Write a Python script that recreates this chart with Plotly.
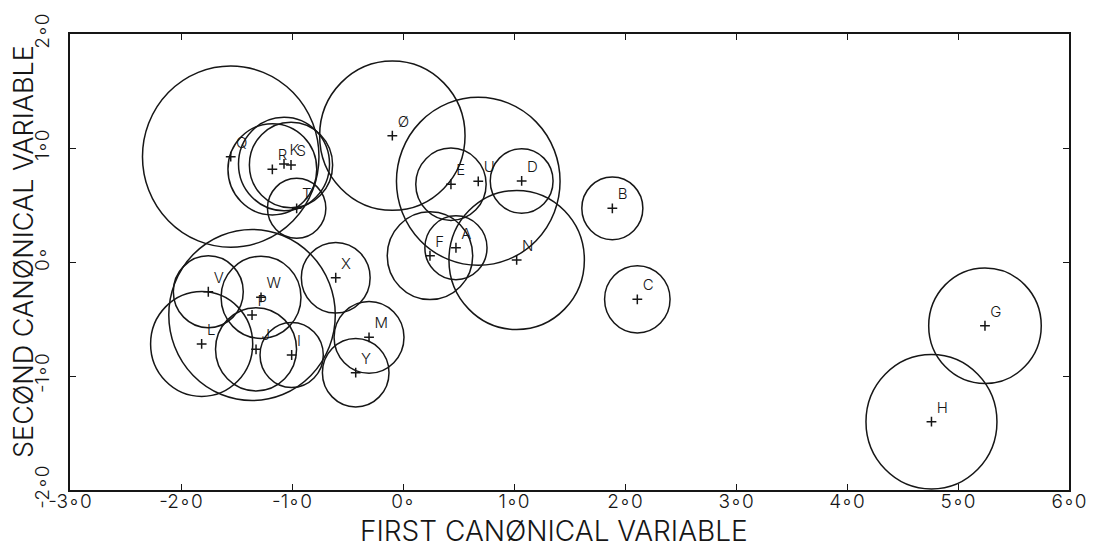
import plotly.graph_objects as go

labels = ["A", "B", "C", "D", "E", "F", "G", "H", "I", "J", "K", "L", "M",
          "N", "Ø", "P", "Q", "R", "S", "T", "U", "V", "W", "X", "Y"]
x_vals = [0.477, 1.886, 2.111, 1.069, 0.432, 0.243, 5.243, 4.761, -1.003, -1.324, -1.072, -1.814, -0.306,
          1.024, -0.096, -1.360, -1.552, -1.177, -1.009, -0.958, 0.678, -1.754, -1.279, -0.606, -0.426]
y_vals = [0.125, 0.471, -0.327, 0.711, 0.682, 0.055, -0.559, -1.401, -0.816, -0.766, 0.860, -0.719, -0.661,
          0.018, 1.108, -0.465, 0.924, 0.813, 0.851, 0.471, 0.708, -0.261, -0.310, -0.138, -0.971]
radii = [0.28, 0.275, 0.295, 0.283, 0.317, 0.385, 0.507, 0.59, 0.285, 0.365, 0.41, 0.46, 0.315,
         0.61, 0.655, 0.75, 0.795, 0.40, 0.375, 0.263, 0.737, 0.315, 0.36, 0.31, 0.30]

x_ticks = [-3, -2, -1, 0, 1, 2, 3, 4, 5, 6]
x_ticktext = ["-3∘0", "-2∘0", "-1∘0", "0∘", "1∘0", "2∘0", "3∘0", "4∘0", "5∘0", "6∘0"]
y_ticks = [-2, -1, 0, 1, 2]
y_ticktext = ["-2∘0", "-1∘0", "0∘", "1∘0", "2∘0"]
x_title = "FIRST CANØNICAL VARIABLE"
y_title = "SECØND CANØNICAL VARIABLE"

FONT = "Inter, Roboto, Noto Sans, sans-serif"
INK = "#161616"

fig = go.Figure()

shapes = []
for cx, cy, r in zip(x_vals, y_vals, radii):
    shapes.append(dict(type="circle", xref="x", yref="y",
                       x0=cx - r, x1=cx + r, y0=cy - r, y1=cy + r,
                       line=dict(color=INK, width=1.5)))

fig.add_trace(go.Scatter(
    x=x_vals, y=y_vals, mode="markers+text", text=labels,
    textposition="top right",
    textfont=dict(family=FONT, size=15, color=INK, weight=300),
    marker=dict(symbol="cross-thin", size=7, line=dict(color=INK, width=1.5)),
    showlegend=False, hoverinfo="skip", cliponaxis=False,
))

fig.update_layout(
    width=1092, height=540,
    margin=dict(l=62, r=31, t=26, b=58),
    paper_bgcolor="white", plot_bgcolor="white",
    shapes=shapes,
    showlegend=False,
    annotations=[
        dict(text=x_title, xref="paper", yref="paper", x=0.4845, y=0, yshift=-41,
             xanchor="center", yanchor="middle", showarrow=False,
             font=dict(family=FONT, size=28, color=INK, weight=300)),
        dict(text=y_title, xref="paper", yref="paper", x=0, y=0.522, xshift=-46,
             xanchor="center", yanchor="middle", showarrow=False, textangle=-90,
             font=dict(family=FONT, size=27, color=INK, weight=300)),
    ],
)
fig.update_xaxes(
    range=[-3, 6], tickvals=x_ticks, ticktext=x_ticktext, automargin=False,
    ticklabelstandoff=-7,
    showgrid=False, zeroline=False, showline=True, linecolor=INK, linewidth=1.5,
    mirror="ticks", ticks="inside", ticklen=6, tickcolor=INK, tickwidth=1.2,
    tickfont=dict(family=FONT, size=19, color=INK, weight=300),
)
fig.update_yaxes(
    range=[-2, 2], tickvals=y_ticks, ticktext=y_ticktext, tickangle=-90, automargin=False,
    ticklabelstandoff=12,
    showgrid=False, zeroline=False, showline=True, linecolor=INK, linewidth=1.5,
    mirror="ticks", ticks="inside", ticklen=6, tickcolor=INK, tickwidth=1.2,
    tickfont=dict(family=FONT, size=19, color=INK, weight=300),
)

fig.write_html("out.html")
